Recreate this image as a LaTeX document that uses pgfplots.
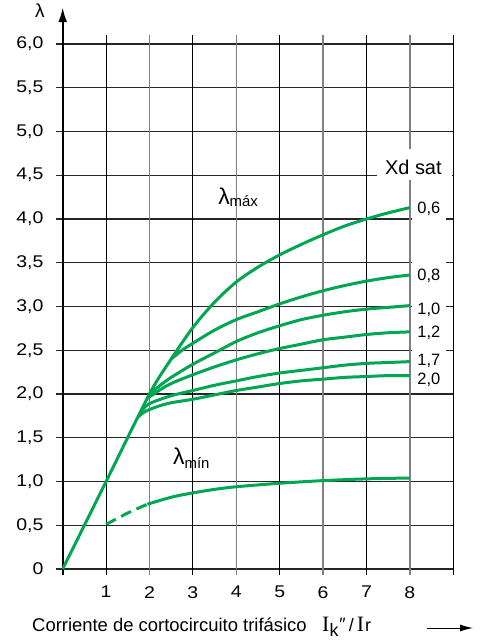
\documentclass[border=0pt]{standalone}
\usepackage{pgfplots}
\pgfplotsset{compat=1.18}
\usepackage{fontspec}
\setmainfont{Liberation Sans}
\newfontfamily\serifI{Liberation Serif}
\usetikzlibrary{arrows.meta}
\definecolor{curvegreen}{RGB}{0,166,81}
\definecolor{gridgray}{RGB}{128,128,128}

\pgfplotstableread{
x y
0 0
1 1
2 2
2.5 2.40
3 2.76
3.5 3.05
4 3.28
4.5 3.45
5 3.59
5.5 3.71
6 3.82
6.5 3.92
7 4.00
7.5 4.07
8 4.13
}\curveA
\pgfplotstableread{
x y
2.5 2.40
2.75 2.50
3 2.58
3.5 2.73
4 2.85
4.5 2.94
5 3.03
5.5 3.11
6 3.18
6.5 3.24
7 3.29
7.5 3.33
8 3.36
}\curveB
\pgfplotstableread{
x y
2 2.0
2.25 2.10
2.5 2.19
3 2.34
3.5 2.47
4 2.60
4.5 2.70
5 2.78
5.5 2.85
6 2.90
6.5 2.94
7 2.97
7.5 2.99
8 3.01
}\curveC
\pgfplotstableread{
x y
1.95 1.95
2.25 2.05
2.5 2.12
3 2.22
3.5 2.31
4 2.39
4.5 2.46
5 2.52
5.5 2.57
6 2.62
6.5 2.65
7 2.68
7.5 2.70
8 2.71
}\curveD
\pgfplotstableread{
x y
1.8 1.8
2 1.89
2.5 1.98
3 2.04
3.5 2.10
4 2.15
4.5 2.20
5 2.24
5.5 2.27
6 2.30
6.5 2.33
7 2.35
7.5 2.36
8 2.37
}\curveE
\pgfplotstableread{
x y
1.74 1.74
1.9 1.80
2.2 1.86
2.5 1.90
3 1.94
3.5 1.99
4 2.04
4.5 2.08
5 2.12
5.5 2.15
6 2.17
6.5 2.19
7 2.20
7.5 2.21
8 2.21
}\curveF
\pgfplotstableread{
x y
1 0.51
1.5 0.64
1.95 0.74
}\minDash
\pgfplotstableread{
x y
1.95 0.74
2.5 0.82
3 0.87
3.5 0.91
4 0.94
5 0.98
6 1.01
7 1.03
8 1.04
}\minSolid

\begin{document}
\begin{tikzpicture}
\begin{scope}[x=43.4bp,y=87.5bp]
  \foreach \yy in {0,0.5,1,1.5,2,2.5,3,3.5,4,4.5,5,5.5,6}
    \draw[black!85,line width=1.1bp] (-0.155,\yy) -- (9,\yy);
  \foreach \xx in {1,3,5,7,9}
    \draw[black,line width=0.9bp] (\xx,-0.07) -- (\xx,6.1);
  \foreach \xx in {2,4,6,8}
    \draw[gridgray,line width=1.3bp] (\xx,-0.07) -- (\xx,6.1);
  \fill[white] (7.24,4.45) rectangle (8.97,4.80);
  \fill[white] (8.04,2.03) rectangle (8.84,4.45);
  \draw[black,line width=2.2bp,-{Latex[length=15bp,width=9bp]}] (0,-0.07) -- (0,6.42);
\end{scope}

\begin{axis}[
  at={(0,0)}, anchor=south west,
  width=390.6bp, height=525bp, scale only axis,
  xmin=0, xmax=9, ymin=0, ymax=6,
  clip=false,
  axis line style={draw=none},
  major tick length=0pt,
  tick style={draw=none},
  xtick={1,2,3,4,5,6,7,8},
  xticklabels={1,2,3,4,5,6,7,8},
  ytick={0,0.5,1,1.5,2,2.5,3,3.5,4,4.5,5,5.5,6},
  yticklabels={0,{0,5},{1,0},{1,5},{2,0},{2,5},{3,0},{3,5},{4,0},{4,5},{5,0},{5,5},{6,0}},
  xticklabel style={anchor=north, inner sep=0pt, yshift=-17bp, xscale=1.15, font=\fontsize{17}{17}\selectfont},
  yticklabel style={anchor=east, inner sep=0pt, xshift=-19bp, xscale=1.15, font=\fontsize{17}{17}\selectfont},
  every axis plot/.append style={curvegreen, line width=3bp, no marks},
]
\addplot[smooth] table {\curveA};
\addplot[smooth] table {\curveB};
\addplot[smooth] table {\curveC};
\addplot[smooth] table {\curveD};
\addplot[smooth] table {\curveE};
\addplot[smooth] table {\curveF};
\addplot[smooth, dash pattern=on 11bp off 6bp] table {\minDash};
\addplot[smooth] table {\minSolid};

\begin{scope}[every node/.style={anchor=base west, inner sep=0pt, font=\fontsize{16.5}{16.5}\selectfont}]
\node at (axis cs:8.17,4.06) {0,6};
\node at (axis cs:8.17,3.30) {0,8};
\node at (axis cs:8.17,2.91) {1,0};
\node at (axis cs:8.17,2.64) {1,2};
\node at (axis cs:8.17,2.32) {1,7};
\node at (axis cs:8.17,2.11) {2,0};
\end{scope}
\node[anchor=base, inner sep=0pt, font=\fontsize{20}{20}\selectfont] at (axis cs:8.08,4.51) {Xd sat};
\node[anchor=base west, inner sep=0pt] at (axis cs:3.58,4.16)
  {{\fontsize{23}{23}\selectfont λ}\raisebox{-2bp}{\fontsize{15}{15}\selectfont máx}};
\node[anchor=base west, inner sep=0pt] at (axis cs:2.54,1.19)
  {{\fontsize{23}{23}\selectfont λ}\raisebox{-4bp}{\fontsize{15}{15}\selectfont mín}};
\end{axis}

\node[anchor=base west, inner sep=0pt, font=\fontsize{19}{19}\selectfont] at (-27.7bp,551bp) {λ};
\node[anchor=base west, inner sep=0pt, font=\fontsize{18.5}{18.5}\selectfont] at (-30.7bp,-62bp)
  {Corriente de cortocircuito trifásico};
\node[anchor=base west, inner sep=0pt, font=\fontsize{18}{18}\selectfont] at (259.3bp,-62bp)
  {{\serifI\fontsize{22}{22}\selectfont I}\raisebox{-5bp}{k}\hspace{1bp}\raisebox{1bp}{″}\hspace{3bp}/\hspace{3bp}{\serifI\fontsize{22}{22}\selectfont I}\hspace{1bp}r};
\draw[black, line width=1bp, -{Latex[length=13bp,width=7bp]}] (364.3bp,-59bp) -- (410.3bp,-59bp);

\pgfresetboundingbox
\path[use as bounding box] (-62.7bp,-71bp) rectangle (419.3bp,569bp);
\end{tikzpicture}
\end{document}
